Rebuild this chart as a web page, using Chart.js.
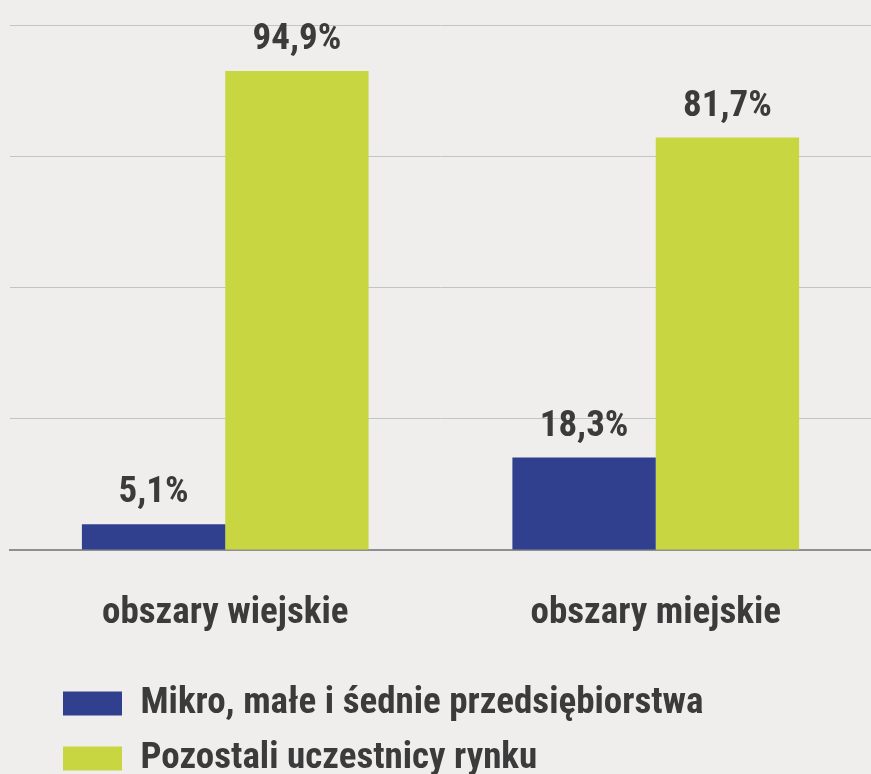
<!DOCTYPE html>
<html lang="pl">
<head>
<meta charset="utf-8">
<title>Udział w rynku</title>
<script src="https://cdn.jsdelivr.net/npm/chart.js@4.4.1/dist/chart.umd.min.js"></script>
<style>
  html, body { margin: 0; padding: 0; background: #efeeec; }
  #wrap { width: 871px; height: 774px; position: relative; }
</style>
</head>
<body>
<div id="wrap"><canvas id="chart"></canvas></div>
<script>
// categories and series
const categories = ['obszary wiejskie', 'obszary miejskie'];
const seriesNames = ['Mikro, małe i śednie przedsiębiorstwa', 'Pozostali uczestnicy rynku'];
const smeShare = [5.1, 18.3];
const otherShare = [94.9, 81.7];
const yMax = 104;
const yStep = 26;

const FONT = "'Roboto Condensed', Roboto, sans-serif";
const TEXT = '#3b3b3b';

// value labels above the bars, e.g. "94,9%"
const valueLabels = {
  id: 'valueLabels',
  afterDatasetsDraw(chart) {
    const ctx = chart.ctx;
    ctx.save();
    ctx.font = `bold 37px ${FONT}`;
    ctx.fillStyle = TEXT;
    ctx.textAlign = 'center';
    ctx.textBaseline = 'alphabetic';
    chart.data.datasets.forEach((ds, i) => {
      chart.getDatasetMeta(i).data.forEach((bar, j) => {
        const txt = ds.data[j].toFixed(1).replace('.', ',') + '%';
        ctx.fillText(txt, bar.x, bar.y - 22);
      });
    });
    ctx.restore();
  }
};

// nudge the legend so it sits like in the original
const legendPlace = {
  id: 'legendPlace',
  beforeDraw(chart) {
    chart.legend.left = 45;
    chart.legend.top = 667;
  }
};

new Chart(document.getElementById('chart'), {
  type: 'bar',
  data: {
    labels: categories,
    datasets: [
      { label: seriesNames[0], data: smeShare, backgroundColor: '#31408e' },
      { label: seriesNames[1], data: otherShare, backgroundColor: '#c8d641' }
    ]
  },
  options: {
    responsive: true,
    maintainAspectRatio: false,
    animation: false,
    layout: { padding: { left: 10, right: -4, top: 25, bottom: 0 } },
    datasets: {
      bar: { categoryPercentage: 0.666, barPercentage: 1.0, borderWidth: 0 }
    },
    scales: {
      x: {
        grid: { display: false, drawTicks: false },
        border: { display: true, color: '#8f8f8f', width: 2 },
        ticks: {
          color: TEXT,
          padding: 42,
          font: { family: FONT, size: 37, weight: 'bold' }
        },
        afterFit: (axis) => { axis.height = 104; }
      },
      y: {
        min: 0,
        max: yMax,
        ticks: { display: false, stepSize: yStep },
        grid: { color: '#c4c4c4', lineWidth: 1, drawTicks: false },
        border: { display: false }
      }
    },
    plugins: {
      tooltip: { enabled: false },
      legend: {
        position: 'bottom',
        align: 'start',
        labels: {
          boxWidth: 59,
          boxHeight: 24,
          padding: 18,
          color: TEXT,
          font: { family: FONT, size: 37, weight: 'bold' }
        }
      }
    }
  },
  plugins: [valueLabels, legendPlace]
});
</script>
</body>
</html>
